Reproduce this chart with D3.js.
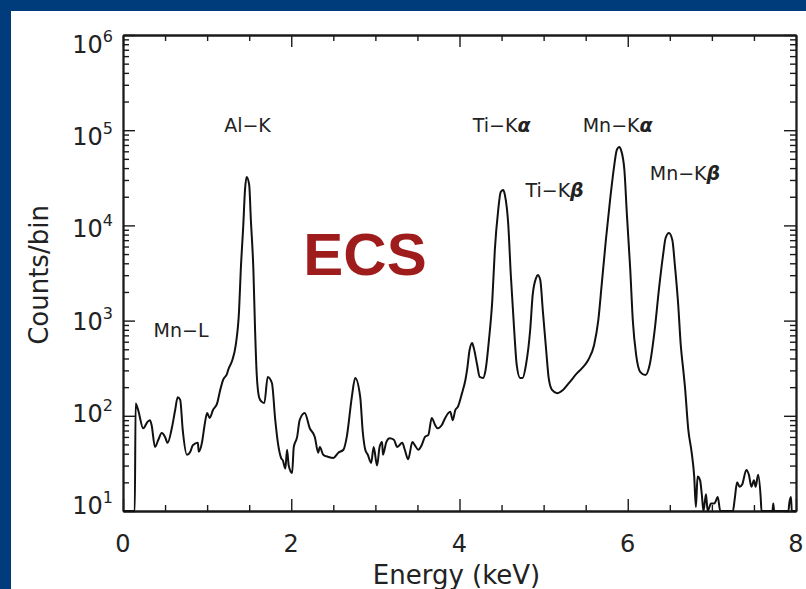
<!DOCTYPE html>
<html>
<head>
<meta charset="utf-8">
<script src="https://cdn.jsdelivr.net/npm/d3@7"></script>
<style>
  html, body { margin: 0; padding: 0; background: #ffffff; }
  svg { display: block; }
</style>
</head>
<body>
<svg id="chart" width="806" height="589"></svg>
<script>
// X-ray spectrum: energy (keV) and counts per bin
const energy = [
  0.00, 0.14, 0.15, 0.18, 0.24, 0.29, 0.32, 0.34, 0.38, 0.42, 0.46, 0.50, 0.53, 0.58, 0.62, 0.65, 0.68, 0.71,
  0.76, 0.80, 0.83, 0.89, 0.90, 0.94, 0.97, 1.00, 1.03, 1.07, 1.12, 1.15, 1.19, 1.24, 1.25, 1.30, 1.34, 1.38,
  1.40, 1.43, 1.45, 1.47, 1.50, 1.52, 1.55, 1.57, 1.59, 1.62, 1.65, 1.68, 1.72, 1.77, 1.81, 1.84, 1.88, 1.90,
  1.93, 1.95, 1.97, 2.01, 2.03, 2.07, 2.10, 2.16, 2.22, 2.28, 2.32, 2.34, 2.38, 2.44, 2.50, 2.56, 2.62, 2.66,
  2.72, 2.76, 2.82, 2.85, 2.88, 2.91, 2.95, 2.98, 3.02, 3.05, 3.08, 3.09, 3.13, 3.17, 3.22, 3.26, 3.32, 3.35,
  3.39, 3.44, 3.47, 3.51, 3.55, 3.59, 3.63, 3.67, 3.71, 3.74, 3.79, 3.83, 3.89, 3.92, 3.95, 3.98, 4.03, 4.07,
  4.09, 4.12, 4.15, 4.17, 4.21, 4.24, 4.28, 4.31, 4.35, 4.39, 4.42, 4.46, 4.49, 4.52, 4.54, 4.58, 4.61, 4.65,
  4.68, 4.72, 4.75, 4.79, 4.84, 4.87, 4.91, 4.93, 4.96, 4.99, 5.03, 5.06, 5.10, 5.16, 5.23, 5.31, 5.40, 5.46,
  5.53, 5.60, 5.65, 5.69, 5.74, 5.79, 5.84, 5.87, 5.90, 5.92, 5.96, 5.99, 6.03, 6.06, 6.10, 6.15, 6.21, 6.26,
  6.32, 6.37, 6.42, 6.45, 6.49, 6.53, 6.56, 6.60, 6.63, 6.66, 6.68, 6.72, 6.76, 6.79, 6.81, 6.83, 6.86, 6.88,
  6.90, 6.93, 6.95, 6.99, 7.03, 7.07, 7.10, 7.25, 7.27, 7.30, 7.33, 7.36, 7.41, 7.44, 7.47, 7.50, 7.52, 7.55,
  7.58, 7.59, 7.72, 7.73, 7.74, 7.91, 7.92, 7.94, 7.95, 8.00
];
const counts = [
  0, 0, 135, 115, 74, 86, 90, 80, 47, 56, 66, 60, 52, 74, 115, 157, 147, 71,
  39, 42, 49, 52, 42, 53, 80, 107, 95, 115, 136, 178, 238, 282, 303, 386, 554, 1290,
  3400, 10100, 23500, 32200, 26600, 11400, 3400, 796, 268, 154, 140, 136, 256, 221, 90, 53, 36, 34,
  28, 44, 30, 25, 47, 60, 90, 107, 74, 60, 41, 47, 39, 37, 36, 41, 44, 60,
  157, 250, 157, 68, 44, 39, 32, 47, 30, 47, 53, 39, 53, 58, 56, 47, 52, 44,
  35, 53, 49, 44, 49, 60, 63, 95, 80, 74, 80, 95, 110, 90, 115, 124, 173, 238,
  303, 491, 582, 516, 342, 256, 250, 303, 625, 1640, 5520, 14500, 22400, 23500, 20800, 10100, 3010, 796,
  342, 250, 250, 342, 796, 1860, 2800, 3010, 2670, 1290, 491, 250, 187, 173, 187, 226, 282, 318,
  386, 554, 1010, 2370, 7030, 18500, 43000, 62000, 66700, 62000, 38200, 12900, 3400, 1010, 435, 288, 268, 342,
  796, 2100, 4890, 7380, 8320, 7030, 3840, 1460, 554, 303, 201, 71, 41, 23, 11, 23, 21, 15,
  0, 15, 0, 12, 12, 14, 0, 0, 13, 20, 18, 19, 27, 24, 18, 21, 18, 24,
  14, 0, 0, 12, 0, 0, 12, 14, 0, 0
];

// Axis ticks
const xMajorTicks = [0, 2, 4, 6, 8];
const xMinorTicks = [0.5, 1, 1.5, 2.5, 3, 3.5, 4.5, 5, 5.5, 6.5, 7, 7.5];
const yDecades = [1, 2, 3, 4, 5, 6];          // exponents of the labelled ticks
const yMinorMultipliers = [2, 3, 4, 5, 6, 7, 8, 9];

// Line annotations: label, Greek suffix, energy (keV), counts at label baseline
const lineNames  = ["Mn−L", "Al−K", "Ti−K", "Ti−K", "Mn−K", "Mn−K"];
const lineGreek  = ["", "", "α", "β", "α", "β"];
const lineEnergy = [0.69, 1.48, 4.50, 5.13, 5.88, 6.68];
const lineCounts = [673, 95700, 95700, 19900, 95700, 30000];

const W = 806, H = 589;
const plot = { left: 123, right: 796, top: 35, bottom: 511 };

const svg = d3.select("#chart");

// blue framing band with a white panel
svg.append("rect").attr("x", 0).attr("y", 0).attr("width", W).attr("height", H).attr("fill", "#003b7b");
svg.append("rect").attr("x", 11).attr("y", 11).attr("width", W - 11).attr("height", H - 11).attr("fill", "#ffffff");

const x = d3.scaleLinear().domain([0, 8]).range([plot.left, plot.right]);
const y = d3.scaleLog().domain([10, 1e6]).range([plot.bottom, plot.top]).clamp(true);

const minorY = [];
for (let e = 1; e < 6; e++) for (const m of yMinorMultipliers) minorY.push(m * Math.pow(10, e));
const majorY = yDecades.map(e => Math.pow(10, e));

const axisColor = "#1a1a1a";
function styleAxis(g) {
  g.selectAll(".domain").attr("stroke", axisColor).attr("stroke-width", 1.8);
  g.selectAll(".tick line").attr("stroke", axisColor).attr("stroke-width", 1.4);
  g.selectAll(".tick text").remove();
}

// bottom / top
[[d3.axisBottom, plot.bottom], [d3.axisTop, plot.top]].forEach(([ax, pos]) => {
  svg.append("g").attr("transform", `translate(0,${pos})`)
    .call(ax(x).tickValues(xMajorTicks).tickSize(-12).tickSizeOuter(0)).call(styleAxis);
  svg.append("g").attr("transform", `translate(0,${pos})`)
    .call(ax(x).tickValues(xMinorTicks).tickSize(-6).tickSizeOuter(0)).call(styleAxis);
});
// left / right
[[d3.axisLeft, plot.left], [d3.axisRight, plot.right]].forEach(([ax, pos]) => {
  svg.append("g").attr("transform", `translate(${pos},0)`)
    .call(ax(y).tickValues(majorY).tickSize(-12).tickSizeOuter(0)).call(styleAxis);
  svg.append("g").attr("transform", `translate(${pos},0)`)
    .call(ax(y).tickValues(minorY).tickSize(-6).tickSizeOuter(0)).call(styleAxis);
});

const tickFont = "'DejaVu Sans', 'Liberation Sans', Arial, sans-serif";

// x tick labels
svg.append("g").selectAll("text").data(xMajorTicks).join("text")
  .attr("x", d => x(d)).attr("y", plot.bottom + 41)
  .attr("text-anchor", "middle")
  .attr("font-family", tickFont).attr("font-size", 24).attr("fill", "#222")
  .text(d => d);

// y tick labels 10^n
const labelY = d3.scaleLinear().domain([1, 6]).range([plot.bottom - 6, plot.top + 9]);
const yl = svg.append("g").selectAll("text").data(yDecades).join("text")
  .attr("x", plot.left - 10).attr("y", d => labelY(d) + 9)
  .attr("text-anchor", "end")
  .attr("font-family", tickFont).attr("font-size", 24).attr("fill", "#222");
yl.append("tspan").text("10");
yl.append("tspan").attr("font-size", 16).attr("dy", -11).text(d => d);

// axis titles
svg.append("text")
  .attr("x", (plot.left + plot.right) / 2 - 3).attr("y", 584)
  .attr("text-anchor", "middle")
  .attr("font-family", tickFont).attr("font-size", 26).attr("fill", "#222")
  .text("Energy (keV)");
svg.append("text")
  .attr("transform", `translate(48,${(plot.top + plot.bottom) / 2 + 2}) rotate(-90)`)
  .attr("text-anchor", "middle")
  .attr("font-family", tickFont).attr("font-size", 26).attr("fill", "#222")
  .text("Counts/bin");

// spectrum
const pts = energy.map((e, i) => [e, counts[i]]);
const line = d3.line()
  .x(d => x(d[0]))
  .y(d => y(Math.max(d[1], 10)))
  .curve(d3.curveMonotoneX);
svg.append("path").datum(pts)
  .attr("d", line)
  .attr("fill", "none").attr("stroke", "#111").attr("stroke-width", 2)
  .attr("stroke-linejoin", "round");

// line identifications
const ann = svg.append("g").selectAll("text").data(lineNames).join("text")
  .attr("x", (d, i) => x(lineEnergy[i]))
  .attr("y", (d, i) => y(lineCounts[i]))
  .attr("text-anchor", "middle")
  .attr("font-family", tickFont).attr("font-size", 19).attr("fill", "#222");
ann.append("tspan").text(d => d);
ann.append("tspan").attr("font-weight", "bold").attr("font-style", "italic")
  .text((d, i) => lineGreek[i]);

// detector tag
svg.append("text")
  .attr("x", 365).attr("y", 275)
  .attr("text-anchor", "middle")
  .attr("font-family", "'Liberation Sans', Arial, Helvetica, sans-serif")
  .attr("font-weight", "bold").attr("font-size", 60).attr("fill", "#9e1c1c")
  .text("ECS");
</script>
</body>
</html>
